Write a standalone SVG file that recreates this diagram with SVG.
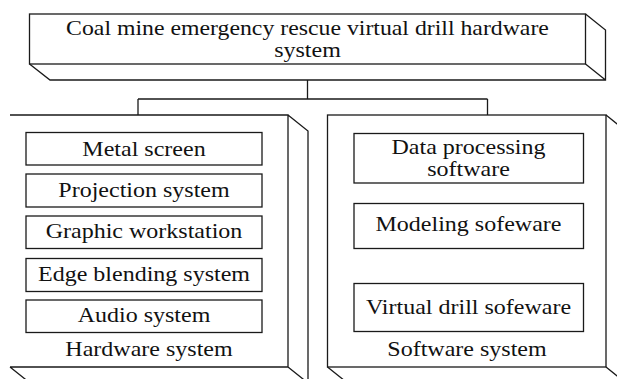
<svg xmlns="http://www.w3.org/2000/svg" width="617" height="379" viewBox="0 0 617 379">
  <style>
    .ln { fill: none; stroke: #1a1a1a; stroke-width: 1.3; stroke-linejoin: miter; }
    .bx { fill: #ffffff; stroke: #1a1a1a; stroke-width: 1.3; }
    .t { font-family: "Liberation Serif", "Times New Roman", serif; font-size: 21px; fill: #111111; text-anchor: middle; }
  </style>
  <rect x="0" y="0" width="617" height="379" fill="#ffffff"/>

  <g id="root">
    <rect class="bx" x="29.5" y="14" width="556" height="50"/>
    <path class="ln" d="M29.5 64 L50 80 L605.5 80 L605.5 30 L585.5 14 M585.5 64 L605.5 80"/>
    <text class="t" transform="translate(307.5 35) scale(1.133 1)">Coal mine emergency rescue virtual drill hardware</text>
    <text class="t" transform="translate(307.5 57) scale(1.143 1)">system</text>
  </g>

  <g id="connectors">
    <path class="ln" d="M307.5 80 L307.5 99 M138 99 L487.5 99 M138 99 L138 115 M487.5 99 L487.5 115"/>
  </g>

  <g id="hardware">
    <path class="ln" d="M10 115 L288 115 L288 367 L10 367 M288 115 L308 131 L308 383 M288 367 L308 383 M10 367 L30 383"/>
    <text class="t" transform="translate(149 356) scale(1.143 1)">Hardware system</text>
  </g>

  <g id="metal-screen">
    <rect class="bx" x="26" y="132.5" width="236" height="32.5"/>
    <text class="t" transform="translate(144 155.5) scale(1.143 1)">Metal screen</text>
  </g>
  <g id="projection-system">
    <rect class="bx" x="26" y="174" width="236" height="33"/>
    <text class="t" transform="translate(144 196.5) scale(1.143 1)">Projection system</text>
  </g>
  <g id="graphic-workstation">
    <rect class="bx" x="26" y="216" width="236" height="32.5"/>
    <text class="t" transform="translate(144 237.5) scale(1.143 1)">Graphic workstation</text>
  </g>
  <g id="edge-blending-system">
    <rect class="bx" x="26" y="258.5" width="236" height="33"/>
    <text class="t" transform="translate(144 280.5) scale(1.143 1)">Edge blending system</text>
  </g>
  <g id="audio-system">
    <rect class="bx" x="26" y="300" width="236" height="32.5"/>
    <text class="t" transform="translate(144 322) scale(1.143 1)">Audio system</text>
  </g>

  <g id="software">
    <rect class="bx" x="327.5" y="115" width="278.5" height="252"/>
    <path class="ln" d="M606 115 L626 131 M606 367 L626 383 M327.5 367 L347.5 383"/>
    <text class="t" transform="translate(467 355.5) scale(1.143 1)">Software system</text>
  </g>

  <g id="data-processing-software">
    <rect class="bx" x="354" y="133.5" width="229.5" height="49.5"/>
    <text class="t" transform="translate(468.5 154) scale(1.143 1)">Data processing</text>
    <text class="t" transform="translate(468.5 175.5) scale(1.143 1)">software</text>
  </g>
  <g id="modeling-sofeware">
    <rect class="bx" x="354" y="203.5" width="229.5" height="45"/>
    <text class="t" transform="translate(468.5 231) scale(1.143 1)">Modeling sofeware</text>
  </g>
  <g id="virtual-drill-sofeware">
    <rect class="bx" x="354" y="283.5" width="229.5" height="48"/>
    <text class="t" transform="translate(468.5 314) scale(1.143 1)">Virtual drill sofeware</text>
  </g>
</svg>
